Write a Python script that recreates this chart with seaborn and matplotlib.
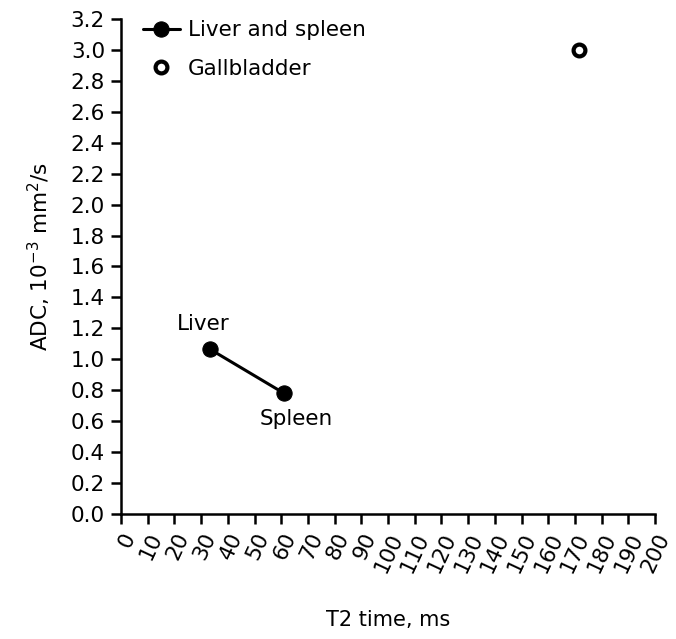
import pandas as pd
import numpy as np
import matplotlib
matplotlib.use('Agg')
import matplotlib.pyplot as plt
import seaborn as sns

sns.set_style('ticks')
plt.rcParams['font.family'] = ['DejaVu Sans']
plt.rcParams['text.color'] = 'black'
plt.rcParams['axes.labelcolor'] = 'black'
plt.rcParams['xtick.color'] = 'black'
plt.rcParams['ytick.color'] = 'black'
FS = 15.5

# data
organs = ['Liver', 'Spleen']
t2_organs = [33.3, 61.0]
adc_organs = [1.065, 0.78]

t2_gall = [171.5]
adc_gall = [3.0]

x_ticks = list(range(0, 201, 10))
y_ticks = [round(v, 1) for v in np.arange(0, 3.21, 0.2)]

liver_df = pd.DataFrame({'organ': organs, 't2': t2_organs, 'adc': adc_organs})
gall_df = pd.DataFrame({'t2': t2_gall, 'adc': adc_gall})

fig = plt.figure(figsize=(6.76, 6.39), dpi=100)
ax = fig.add_axes([0.179, 0.196, 0.79, 0.774])

sns.lineplot(data=liver_df, x='t2', y='adc', ax=ax, color='black', lw=2.2,
             marker='o', markersize=11, markeredgecolor='black',
             label='Liver and spleen', sort=False)
ax.plot(gall_df['t2'], gall_df['adc'], ls='none', marker='o', markersize=8.5,
        markerfacecolor='white', markeredgecolor='black', markeredgewidth=3,
        label='Gallbladder')

# point labels
ax.text(t2_organs[0] - 2.5, adc_organs[0] + 0.1, organs[0], fontsize=FS,
        ha='center', va='bottom')
ax.text(t2_organs[1] + 4.5, adc_organs[1] - 0.1, organs[1], fontsize=FS,
        ha='center', va='top')

ax.set_xlim(0, 200)
ax.set_ylim(0, 3.2)
ax.set_xticks(x_ticks)
ax.set_xticklabels([str(v) for v in x_ticks], rotation=65, ha='right',
                   va='top', rotation_mode='anchor', fontsize=FS)
ax.set_yticks(y_ticks)
ax.set_yticklabels(['%.1f' % v for v in y_ticks], fontsize=FS)
ax.tick_params(axis='both', direction='out', length=7.5, width=1.8, colors='black')
ax.tick_params(axis='x', pad=4)
ax.tick_params(axis='y', pad=4)
for s in ['left', 'bottom']:
    ax.spines[s].set_linewidth(1.8)
    ax.spines[s].set_color('black')
sns.despine(ax=ax)

ax.set_xlabel('T2 time, ms', fontsize=FS - 0.5, va='center')
ax.xaxis.set_label_coords(0.5, -0.214)
ax.set_ylabel('ADC, 10$^{-3}$ mm$^{2}$/s', fontsize=FS, va='center')
ax.yaxis.set_label_coords(-0.152, 0.52)

leg = ax.legend(loc='upper left', bbox_to_anchor=(0.025, 1.015), frameon=False,
                fontsize=FS, handlelength=1.7, handletextpad=0.4,
                labelspacing=0.85, borderaxespad=0)
for t in leg.get_texts():
    t.set_color('black')

fig.savefig('out.png', dpi=100)
